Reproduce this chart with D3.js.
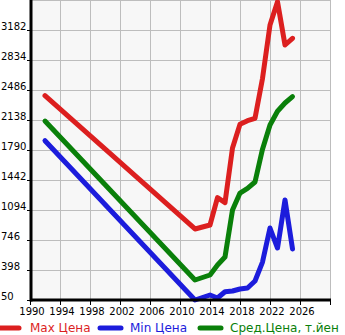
<!DOCTYPE html>
<html>
<head>
<meta charset="utf-8">
<script src="https://cdn.jsdelivr.net/npm/d3@7"></script>
<style>
  html, body { margin: 0; padding: 0; background: #ffffff; }
  svg { display: block; font-family: "DejaVu Sans", sans-serif; }
</style>
</head>
<body>
<svg id="chart" width="345" height="335"></svg>
<script>
// Price history by year (thousand yen)
const years     = [1992, 2012, 2014, 2015, 2016, 2017, 2018, 2019, 2020, 2021, 2022, 2023, 2024, 2025];
const maxPrice  = [2420,  874,  920, 1237, 1180, 1813, 2088, 2130, 2158, 2620, 3240, 3510, 3008, 3086];
const minPrice  = [1898,   50,  108,   73,  146,  154,  178,  189,  270,  490,  885,  653, 1210,  642];
const avgPrice  = [2126,  282,  340,  456,  549, 1094, 1291, 1345, 1419, 1800, 2080, 2240, 2335, 2410];

const yTicks = [50, 398, 746, 1094, 1442, 1790, 2138, 2486, 2834, 3182];
const yGrid  = [50, 398, 746, 1094, 1442, 1790, 2138, 2486, 2834, 3182, 3530];
const xTicks = [1990, 1994, 1998, 2002, 2006, 2010, 2014, 2018, 2022, 2026];
const xGrid  = [1990, 1994, 1998, 2002, 2006, 2010, 2014, 2018, 2022, 2026, 2030];

const seriesNames  = ["Max Цена", "Min Цена", "Сред.Цена, т.йен"];
const seriesColors = ["#dc1f1f", "#1c1cdc", "#0a800a"];
const seriesValues = [maxPrice, minPrice, avgPrice];

const svg = d3.select("#chart");
const x = d3.scaleLinear().domain([1990, 2030]).range([30, 330]);
const y = d3.scaleLinear().domain([50, 3530]).range([300, 0]);

// plot background
svg.append("rect")
  .attr("x", x(1990)).attr("y", y(3530))
  .attr("width", x(2030) - x(1990)).attr("height", y(50) - y(3530))
  .attr("fill", "#f7f7f7");

// grid
const grid = svg.append("g").attr("stroke", "#bdbdbd").attr("stroke-width", 1);
grid.selectAll("line.v").data(xGrid).join("line")
  .attr("class", "v")
  .attr("x1", d => x(d) + 0.5).attr("x2", d => x(d) + 0.5)
  .attr("y1", y(3530)).attr("y2", y(50));
grid.selectAll("line.h").data(yGrid).join("line")
  .attr("class", "h")
  .attr("x1", x(1990)).attr("x2", x(2030))
  .attr("y1", d => y(d) + 0.5).attr("y2", d => y(d) + 0.5);

// series lines
const line = d3.line()
  .x((d, i) => x(years[i]))
  .y(d => y(d));

seriesValues.forEach((vals, k) => {
  svg.append("path")
    .datum(vals)
    .attr("d", line)
    .attr("fill", "none")
    .attr("stroke", seriesColors[k])
    .attr("stroke-width", 5)
    .attr("stroke-linejoin", "round")
    .attr("stroke-linecap", "round");
});

// axes
svg.append("line")
  .attr("x1", x(1990) + 1).attr("x2", x(1990) + 1)
  .attr("y1", y(3530)).attr("y2", y(50) + 1.5)
  .attr("stroke", "#000").attr("stroke-width", 3);
svg.append("line")
  .attr("x1", x(1990)).attr("x2", x(2030) + 1)
  .attr("y1", y(50)).attr("y2", y(50))
  .attr("stroke", "#000").attr("stroke-width", 3);

// y ticks and labels
svg.selectAll("line.yt").data(yTicks).join("line")
  .attr("class", "yt")
  .attr("x1", 27).attr("x2", 30)
  .attr("y1", d => y(d) + 0.5).attr("y2", d => y(d) + 0.5)
  .attr("stroke", "#000").attr("stroke-width", 1);
svg.selectAll("text.yl").data(yTicks).join("text")
  .attr("class", "yl")
  .attr("x", 1).attr("y", d => y(d))
  .attr("font-size", 10).attr("fill", "#000")
  .text(d => d);

// x ticks and labels
svg.selectAll("line.xt").data(xGrid).join("line")
  .attr("class", "xt")
  .attr("x1", d => x(d) + 0.5).attr("x2", d => x(d) + 0.5)
  .attr("y1", 301).attr("y2", 305)
  .attr("stroke", "#000").attr("stroke-width", 1);
svg.selectAll("text.xl").data(xTicks).join("text")
  .attr("class", "xl")
  .attr("x", d => x(d) + 2).attr("y", 315)
  .attr("text-anchor", "middle")
  .attr("font-size", 10).attr("fill", "#000")
  .text(d => d);

// legend
const legendX = [-2, 100, 200];
const lg = svg.append("g");
seriesNames.forEach((name, k) => {
  lg.append("line")
    .attr("x1", legendX[k]).attr("x2", legendX[k] + 21)
    .attr("y1", 328).attr("y2", 328)
    .attr("stroke", seriesColors[k]).attr("stroke-width", 5)
    .attr("stroke-linecap", "round");
  lg.append("text")
    .attr("x", [30, 130, 230][k]).attr("y", 332)
    .attr("font-size", 12).attr("fill", seriesColors[k])
    .text(name);
});
</script>
</body>
</html>
